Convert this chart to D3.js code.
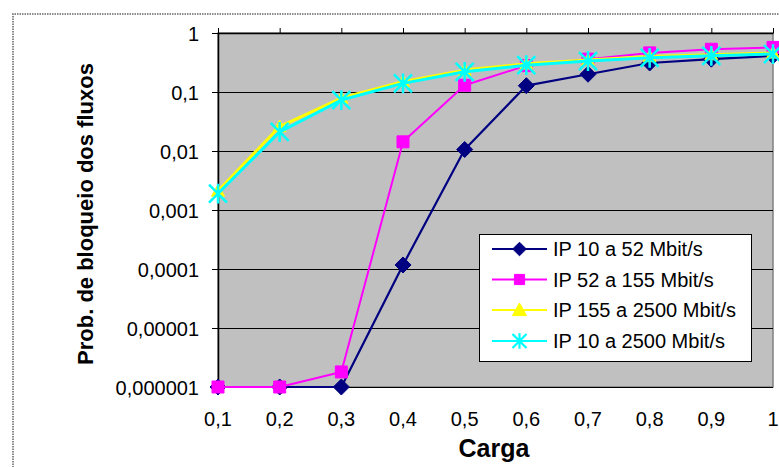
<!DOCTYPE html>
<html>
<head>
<meta charset="utf-8">
<script src="https://cdn.jsdelivr.net/npm/d3@7"></script>
<style>
  html, body { margin: 0; padding: 0; background: #fff; }
  svg { display: block; font-family: "Liberation Sans", Arial, sans-serif; }
</style>
</head>
<body>
<svg id="chart" width="779" height="467"></svg>
<script>
// Carga (offered load) on the category axis
const carga = [0.1, 0.2, 0.3, 0.4, 0.5, 0.6, 0.7, 0.8, 0.9, 1.0];

// Blocking probability per IP bandwidth range
const ip10a52 = [1e-6, 1e-6, 1e-6, 1.17e-4, 0.0106, 0.128, 0.2, 0.31, 0.36, 0.41];
const ip52a155 = [1e-6, 1e-6, 1.8e-6, 0.0143, 0.13, 0.28, 0.36, 0.46, 0.53, 0.57];
const ip155a2500 = [0.0021, 0.026, 0.079, 0.15, 0.235, 0.3, 0.35, 0.4, 0.43, 0.46];
const ip10a2500 = [0.0019, 0.021, 0.073, 0.14, 0.22, 0.285, 0.335, 0.38, 0.41, 0.44];

const seriesNames = ["IP 10 a 52 Mbit/s", "IP 52 a 155 Mbit/s", "IP 155 a 2500 Mbit/s", "IP 10 a 2500 Mbit/s"];

// Y axis tick values and their comma-decimal labels
const yTicks = [1, 0.1, 0.01, 0.001, 0.0001, 0.00001, 0.000001];
const yTickLabels = ["1", "0,1", "0,01", "0,001", "0,0001", "0,00001", "0,000001"];
const xTickLabels = ["0,1", "0,2", "0,3", "0,4", "0,5", "0,6", "0,7", "0,8", "0,9", "1"];

const svg = d3.select("#chart");

// Dotted outer frame of the chart object
svg.append("path")
  .attr("d", "M13,480 L13,14 L800,14")
  .attr("fill", "none")
  .attr("stroke", "#8a8a8a")
  .attr("stroke-width", 2)
  .attr("stroke-dasharray", "1.5,1");

const plot = { left: 218, right: 773, top: 33, bottom: 387 };

const x = d3.scaleLinear().domain([0.1, 1]).range([plot.left, plot.right]);
const y = d3.scaleLog().domain([1e-6, 1]).range([plot.bottom, plot.top]);

// Plot area
svg.append("rect")
  .attr("x", plot.left).attr("y", plot.top)
  .attr("width", plot.right - plot.left).attr("height", plot.bottom - plot.top)
  .attr("fill", "#c0c0c0")
  .attr("stroke", "#808080")
  .attr("stroke-width", 1.5);

// Horizontal gridlines
svg.append("g").selectAll("line").data(yTicks).join("line")
  .attr("x1", plot.left).attr("x2", plot.right)
  .attr("y1", d => Math.round(y(d)) + 0.5).attr("y2", d => Math.round(y(d)) + 0.5)
  .attr("stroke", "#000").attr("stroke-width", 1);

// Y axis (left)
const yAxis = d3.axisLeft(y)
  .tickValues(yTicks)
  .tickFormat((d, i) => yTickLabels[i])
  .tickSizeInner(6).tickSizeOuter(0).tickPadding(13);
const gy = svg.append("g").attr("transform", `translate(${plot.left},0)`).call(yAxis);
gy.select(".domain").attr("stroke", "#000").attr("stroke-width", 1.5);
gy.selectAll(".tick line").attr("stroke", "#000");
gy.selectAll(".tick text")
  .attr("font-size", 20).attr("fill", "#000")
  .attr("font-family", "Liberation Sans, Arial, sans-serif")
  .attr("dy", "0.36em");

// X axis line sits at the top (crosses at 1), ticks point up, labels below the plot
const xAxis = d3.axisTop(x)
  .tickValues(carga)
  .tickFormat("")
  .tickSizeInner(5).tickSizeOuter(0);
const gx = svg.append("g").attr("transform", `translate(0,${plot.top})`).call(xAxis);
gx.select(".domain").attr("stroke", "#000").attr("stroke-width", 1.5);
gx.selectAll(".tick line").attr("stroke", "#000");

svg.append("g").selectAll("text").data(carga).join("text")
  .attr("x", d => x(d))
  .attr("y", 426)
  .attr("text-anchor", "middle")
  .attr("font-size", 20)
  .text((d, i) => xTickLabels[i]);

// Axis titles
svg.append("text")
  .attr("x", 494).attr("y", 457)
  .attr("text-anchor", "middle")
  .attr("font-size", 25).attr("font-weight", "bold")
  .text("Carga");

svg.append("text")
  .attr("transform", "translate(93,214) rotate(-90)")
  .attr("text-anchor", "middle")
  .attr("font-size", 22).attr("font-weight", "bold")
  .text("Prob. de bloqueio dos fluxos");

// Marker shapes
const diamondPath = s => `M0,${-s}L${s},0L0,${s}L${-s},0Z`;
const squarePath = s => `M${-s},${-s}H${s}V${s}H${-s}Z`;
const trianglePath = s => `M0,${-s}L${s},${s * 0.8}L${-s},${s * 0.8}Z`;
const starPath = s => `M${-s},${-s}L${s},${s}M${-s},${s}L${s},${-s}M0,${-s * 1.1}L0,${s * 1.1}`;

const series = [
  { name: seriesNames[0], values: ip10a52, color: "#000080", width: 2.2, marker: diamondPath, size: 8, filled: true },
  { name: seriesNames[1], values: ip52a155, color: "#ff00ff", width: 2, marker: squarePath, size: 6, filled: true },
  { name: seriesNames[2], values: ip155a2500, color: "#ffff00", width: 3, marker: trianglePath, size: 6.5, filled: true },
  { name: seriesNames[3], values: ip10a2500, color: "#00ffff", width: 3, marker: starPath, size: 9, filled: false }
];

const line = d3.line().x(d => x(d[0])).y(d => y(d[1]));

series.forEach(s => {
  const pts = carga.map((c, i) => [c, s.values[i]]);
  const g = svg.append("g");
  g.append("path")
    .attr("d", line(pts))
    .attr("fill", "none")
    .attr("stroke", s.color)
    .attr("stroke-width", s.width)
    .attr("stroke-linejoin", "round");
  g.selectAll("path.m").data(pts).join("path")
    .attr("class", "m")
    .attr("transform", d => `translate(${x(d[0])},${y(d[1])})`)
    .attr("d", s.marker(s.size))
    .attr("fill", s.filled ? s.color : "none")
    .attr("stroke", s.color)
    .attr("stroke-width", s.filled ? 1 : 2.5);
});

// Legend
const legend = svg.append("g");
legend.append("rect")
  .attr("x", 479.5).attr("y", 234.5)
  .attr("width", 272).attr("height", 127)
  .attr("fill", "#fff")
  .attr("stroke", "#000").attr("stroke-width", 1);

const rowY = [249, 279.5, 310, 341];
series.forEach((s, i) => {
  const cy = rowY[i];
  legend.append("line")
    .attr("x1", 492).attr("x2", 547)
    .attr("y1", cy).attr("y2", cy)
    .attr("stroke", s.color).attr("stroke-width", 2);
  legend.append("path")
    .attr("transform", `translate(519.5,${cy})`)
    .attr("d", s.marker(i === 3 ? 7 : (i === 2 ? 7 : s.size * 0.85)))
    .attr("fill", s.filled ? s.color : "none")
    .attr("stroke", s.color)
    .attr("stroke-width", s.filled ? 1 : 2.2);
  legend.append("text")
    .attr("x", 553).attr("y", cy + 7)
    .attr("font-size", 20)
    .text(s.name);
});
</script>
</body>
</html>
